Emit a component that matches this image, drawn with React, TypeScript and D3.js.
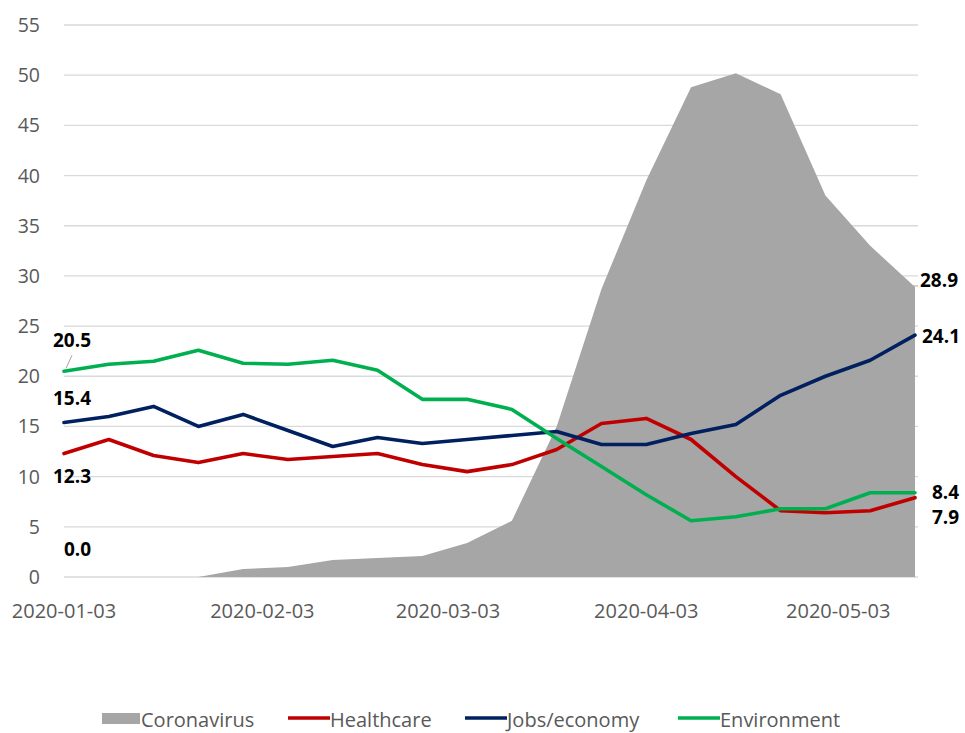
import React from "react";
import * as d3 from "d3";

const dates = [
  "2020-01-03", "2020-01-10", "2020-01-17", "2020-01-24", "2020-01-31",
  "2020-02-07", "2020-02-14", "2020-02-21", "2020-02-28", "2020-03-06",
  "2020-03-13", "2020-03-20", "2020-03-27", "2020-04-03", "2020-04-10",
  "2020-04-17", "2020-04-24", "2020-05-01", "2020-05-08", "2020-05-15",
];

const coronavirus = [0, 0, 0, 0, 0.8, 1.0, 1.7, 1.9, 2.1, 3.4, 5.6, 15.0, 28.7, 39.5, 48.8, 50.2, 48.1, 38.0, 33.0, 28.9];
const healthcare = [12.3, 13.7, 12.1, 11.4, 12.3, 11.7, 12.0, 12.3, 11.2, 10.5, 11.2, 12.7, 15.3, 15.8, 13.7, 10.0, 6.6, 6.4, 6.6, 7.9];
const jobs = [15.4, 16.0, 17.0, 15.0, 16.2, 14.6, 13.0, 13.9, 13.3, 13.7, 14.1, 14.5, 13.2, 13.2, 14.3, 15.2, 18.1, 20.0, 21.6, 24.1];
const environment = [20.5, 21.2, 21.5, 22.6, 21.3, 21.2, 21.6, 20.6, 17.7, 17.7, 16.7, 13.8, 11.0, 8.2, 5.6, 6.0, 6.8, 6.8, 8.4, 8.4];

const xTickLabels = ["2020-01-03", "2020-02-03", "2020-03-03", "2020-04-03", "2020-05-03"];
const yTicks = [0, 5, 10, 15, 20, 25, 30, 35, 40, 45, 50, 55];

const parse = d3.utcParse("%Y-%m-%d");
const font = "'Open Sans', 'Noto Sans', sans-serif";

export default function App() {
  const width = 965;
  const height = 733;
  const x = d3
    .scaleUtc()
    .domain([parse(dates[0])!, parse(dates[dates.length - 1])!])
    .range([64, 915]);
  const y = d3.scaleLinear().domain([0, 55]).range([577, 25]);

  const pts = (vals: number[]) => dates.map((d, i) => [x(parse(d)!), y(vals[i])] as [number, number]);

  const area = d3
    .area<[number, number]>()
    .x((p) => p[0])
    .y0(y(0))
    .y1((p) => p[1]);
  const line = d3.line<[number, number]>();

  const lines = [
    { name: "Healthcare", vals: healthcare, color: "#C00000" },
    { name: "Jobs/economy", vals: jobs, color: "#002060" },
    { name: "Environment", vals: environment, color: "#00B050" },
  ];

  const first = (vals: number[]) => [x(parse(dates[0])!), y(vals[0])];
  const last = (vals: number[]) => [x(parse(dates[dates.length - 1])!), y(vals[vals.length - 1])];

  const labelStyle = { fontFamily: font, fontSize: 19, fontWeight: 700, fill: "#000" } as const;

  const [e0x, e0y] = first(environment);
  const [j0x, j0y] = first(jobs);
  const [h0x, h0y] = first(healthcare);
  const [c0x, c0y] = first(coronavirus);
  const [cLx, cLy] = last(coronavirus);
  const [jLx, jLy] = last(jobs);
  const [eLx, eLy] = last(environment);
  const [hLx, hLy] = last(healthcare);

  return (
    <svg width={width} height={height} style={{ position: "absolute", left: 0, top: 0, background: "#fff" }}>
      {/* gridlines + y labels */}
      {yTicks.map((t) => (
        <g key={t}>
          <line x1={64} x2={918} y1={y(t)} y2={y(t)} stroke="#D9D9D9" strokeWidth={1.3} />
          <text x={40} y={y(t)} dy="0.36em" textAnchor="end" fontFamily={font} fontSize={19.5} fill="#595959">
            {t}
          </text>
        </g>
      ))}

      <path d={area(pts(coronavirus)) || ""} fill="#A6A6A6" />

      {lines.map((l) => (
        <path
          key={l.name}
          d={line(pts(l.vals)) || ""}
          fill="none"
          stroke={l.color}
          strokeWidth={3.6}
          strokeLinejoin="round"
          strokeLinecap="round"
        />
      ))}

      {/* x tick labels */}
      {xTickLabels.map((d) => (
        <text key={d} x={x(parse(d)!)} y={611} dy="0.36em" textAnchor="middle" fontFamily={font} fontSize={20} fill="#595959">
          {d}
        </text>
      ))}

      {/* data labels */}
      <line x1={e0x + 2} y1={e0y - 3} x2={e0x + 8} y2={e0y - 16} stroke="#A6A6A6" strokeWidth={1} />
      <text x={e0x - 11} y={e0y - 24} {...labelStyle}>{environment[0].toFixed(1)}</text>
      <text x={j0x - 11} y={j0y - 17} {...labelStyle}>{jobs[0].toFixed(1)}</text>
      <text x={h0x - 11} y={h0y + 29} {...labelStyle}>{healthcare[0].toFixed(1)}</text>
      <text x={c0x} y={c0y - 21} {...labelStyle}>{coronavirus[0].toFixed(1)}</text>
      <line x1={cLx - 6} y1={cLy - 1} x2={cLx + 3} y2={cLy - 1} stroke="#A6A6A6" strokeWidth={1} />
      <text x={cLx + 5} y={cLy + 0} {...labelStyle}>{coronavirus[coronavirus.length - 1].toFixed(1)}</text>
      <text x={jLx + 7} y={jLy + 8} {...labelStyle}>{jobs[jobs.length - 1].toFixed(1)}</text>
      <text x={eLx + 17} y={eLy + 6} {...labelStyle}>{environment[environment.length - 1].toFixed(1)}</text>
      <text x={hLx + 17} y={hLy + 26} {...labelStyle}>{healthcare[healthcare.length - 1].toFixed(1)}</text>

      {/* legend */}
      <g fontFamily={font} fontSize={20} fill="#595959">
        <rect x={102} y={713} width={38} height={11} fill="#A6A6A6" />
        <text x={141} y={727}>Coronavirus</text>
        <line x1={288} x2={330} y1={718} y2={718} stroke="#C00000" strokeWidth={3.6} />
        <text x={330} y={727}>Healthcare</text>
        <line x1={465} x2={507} y1={718} y2={718} stroke="#002060" strokeWidth={3.6} />
        <text x={507} y={727}>Jobs/economy</text>
        <line x1={678} x2={720} y1={718} y2={718} stroke="#00B050" strokeWidth={3.6} />
        <text x={720} y={727}>Environment</text>
      </g>
    </svg>
  );
}
